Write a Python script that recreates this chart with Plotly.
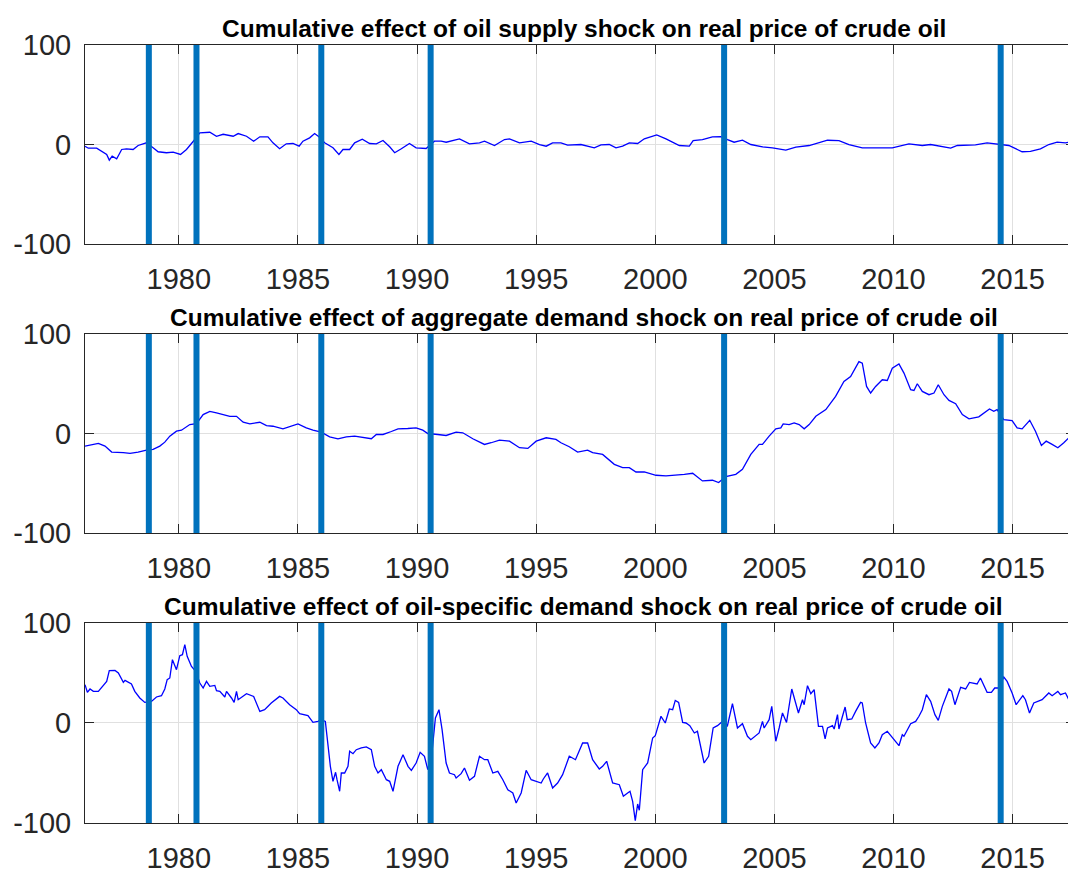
"""Historical decomposition of the real price of crude oil, three stacked panels."""

from __future__ import annotations

import plotly.graph_objects as go
from plotly.subplots import make_subplots

# Panel 1: cumulative effect of oil supply shock
SUPPLY_YEARS = [
    1976.06, 1976.20, 1976.55, 1976.76, 1976.97, 1977.08, 1977.20, 1977.39, 1977.60, 1977.80,
    1978.08, 1978.29, 1978.64, 1978.92, 1979.13, 1979.48, 1979.76, 1980.07, 1980.32, 1980.67,
    1980.88, 1981.30, 1981.58, 1981.86, 1982.28, 1982.49, 1982.84, 1983.14, 1983.40, 1983.74,
    1983.95, 1984.23, 1984.51, 1984.79, 1985.05, 1985.21, 1985.49, 1985.70, 1985.88, 1986.12,
    1986.47, 1986.72, 1986.89, 1987.17, 1987.38, 1987.70, 1988.01, 1988.29, 1988.57, 1988.85,
    1989.06, 1989.34, 1989.68, 1989.96, 1990.38, 1990.73, 1991.01, 1991.22, 1991.78, 1992.20,
    1992.62, 1992.83, 1993.25, 1993.67, 1993.88, 1994.30, 1994.79, 1995.14, 1995.42, 1995.69,
    1996.04, 1996.32, 1996.88, 1997.44, 1997.72, 1998.07, 1998.35, 1998.63, 1998.91, 1999.26,
    1999.54, 2000.06, 2000.45, 2001.01, 2001.43, 2001.59, 2001.98, 2002.40, 2002.75, 2003.03,
    2003.31, 2003.66, 2004.01, 2004.50, 2004.92, 2005.48, 2005.90, 2006.46, 2007.23, 2007.71,
    2008.13, 2008.69, 2009.39, 2009.95, 2010.65, 2011.21, 2011.56, 2011.91, 2012.40, 2012.68,
    2013.44, 2013.93, 2014.42, 2014.84, 2015.40, 2015.75, 2016.17, 2016.52, 2016.87, 2017.22,
    2017.57,
]
SUPPLY_VALUES = [
    -1.7, -3.7, -3.7, -6.7, -10, -15.7, -11.7, -14.3, -5, -4.3,
    -5, -1, 1.7, -3.3, -7.3, -8.3, -7.7, -10, -5, 5,
    11.7, 12.3, 8.3, 10.3, 8.3, 11, 8.3, 3.3, 7.7, 7.7,
    1.7, -4.3, 0.7, 1, -1.7, 3.3, 6.7, 11, 7.7, 1.7,
    -3.3, -10, -5, -5, 1.7, 5.3, 1, 0.7, 4, -2.3,
    -8.3, -4.3, 1, -3.3, -4, 3.3, 3.3, 2.3, 5.7, 0.7,
    1.7, 3.3, -1, 5, 5.7, 1.7, 3.3, 0, -1.7, 1.7,
    1.7, -0.7, 0, -3.3, -0.3, 0, -3.3, -1.7, 1.7, 1,
    5.7, 9.7, 5.7, -1, -1.7, 4, 5, 7.7, 8, 5,
    2.3, 4.3, 0, -2.3, -3.3, -5.7, -2.7, -1, 4.3, 4,
    0, -3.3, -3.3, -3.3, 0.7, -1, 0, -1.7, -3.7, -1,
    -0.3, 1.7, 0, -1, -7.3, -7, -4.3, 0, 2.3, 1.7,
    3.3,
]

# Panel 2: cumulative effect of aggregate demand shock
DEMAND_YEARS = [
    1976.06, 1976.34, 1976.62, 1976.90, 1977.18, 1977.67, 1977.95, 1978.29, 1978.64, 1978.92,
    1979.20, 1979.41, 1979.62, 1979.90, 1980.11, 1980.46, 1980.74, 1981.02, 1981.30, 1981.58,
    1981.86, 1982.14, 1982.42, 1982.70, 1982.98, 1983.40, 1983.68, 1983.95, 1984.37, 1984.65,
    1985.00, 1985.35, 1985.63, 1985.98, 1986.33, 1986.68, 1987.03, 1987.38, 1987.73, 1988.08,
    1988.29, 1988.57, 1988.92, 1989.20, 1989.61, 1989.96, 1990.24, 1990.45, 1990.87, 1991.22,
    1991.64, 1991.92, 1992.34, 1992.83, 1993.11, 1993.46, 1993.88, 1994.30, 1994.65, 1995.00,
    1995.42, 1995.83, 1996.04, 1996.39, 1996.74, 1997.16, 1997.37, 1997.79, 1998.28, 1998.63,
    1998.91, 1999.19, 1999.54, 2000.03, 2000.45, 2000.87, 2001.22, 2001.57, 2001.98, 2002.40,
    2002.66, 2002.96, 2003.38, 2003.66, 2004.01, 2004.36, 2004.50, 2004.78, 2005.06, 2005.27,
    2005.37, 2005.62, 2005.83, 2006.04, 2006.25, 2006.46, 2006.74, 2007.16, 2007.57, 2007.92,
    2008.20, 2008.55, 2008.69, 2008.87, 2009.04, 2009.25, 2009.53, 2009.74, 2009.95, 2010.23,
    2010.44, 2010.72, 2010.86, 2011.00, 2011.21, 2011.49, 2011.70, 2011.88, 2012.12, 2012.33,
    2012.61, 2012.89, 2013.17, 2013.58, 2013.79, 2014.03, 2014.21, 2014.35, 2014.63, 2014.98,
    2015.19, 2015.40, 2015.72, 2015.96, 2016.21, 2016.41, 2016.66, 2016.90, 2017.15, 2017.36,
    2017.57,
]
DEMAND_VALUES = [
    -12.7, -11, -10, -12.7, -18.7, -19.3, -20, -18.7, -16.7, -16,
    -12.7, -8.7, -2.7, 2.3, 3.3, 9, 10, 19, 22.3, 20.7,
    19, 17.3, 17.3, 11.3, 9.7, 11.3, 8, 7.3, 4.7, 6.7,
    9.7, 5.7, 3.3, 1.3, -3.3, -5.3, -3.3, -2.7, -4.3, -5.3,
    -1, -1, 2, 4.7, 5, 5.7, 3.3, 0, -1, -2,
    1.3, 0.7, -5.3, -11, -9.3, -6.7, -7.7, -14.3, -15, -7.7,
    -4.3, -6, -9.3, -13.3, -18.7, -16.7, -19.3, -21, -31, -34.3,
    -34.3, -38.7, -38.7, -42, -42.7, -42, -41, -40, -47.7, -47,
    -49.3, -43.3, -41, -36, -21, -11, -11, -2.7, 4.7, 5.7,
    9.7, 9, 10.7, 9, 4.7, 9, 17.3, 24, 37.3, 52.3,
    57.3, 72.3, 70.7, 47.3, 40.7, 47.3, 54, 53.3, 65.7, 70,
    60.7, 44, 43.3, 50, 42.3, 39, 40.7, 49, 39, 33.3,
    30, 19, 14.7, 16.7, 20.7, 24.7, 22.3, 24, 14, 13,
    5.7, 4.7, 13.3, 2.3, -12, -7.7, -11, -14.3, -9.3, -4.3,
    -10,
]

# Panel 3: cumulative effect of oil-specific demand shock
OIL_YEARS = [
    1976.06, 1976.16, 1976.27, 1976.41, 1976.62, 1976.83, 1976.97, 1977.08, 1977.32, 1977.46,
    1977.67, 1977.74, 1978.01, 1978.15, 1978.36, 1978.57, 1978.85, 1979.06, 1979.27, 1979.41,
    1979.51, 1979.62, 1979.73, 1979.90, 1980.04, 1980.15, 1980.25, 1980.35, 1980.53, 1980.71,
    1980.88, 1981.02, 1981.16, 1981.30, 1981.51, 1981.58, 1981.72, 1981.93, 1982.00, 1982.21,
    1982.32, 1982.42, 1982.49, 1982.84, 1983.14, 1983.40, 1983.60, 1983.88, 1984.23, 1984.37,
    1984.65, 1984.93, 1985.07, 1985.42, 1985.63, 1985.84, 1985.98, 1986.15, 1986.26, 1986.36,
    1986.47, 1986.58, 1986.64, 1986.75, 1986.82, 1986.96, 1987.10, 1987.17, 1987.31, 1987.45,
    1987.66, 1987.87, 1988.08, 1988.22, 1988.36, 1988.50, 1988.71, 1988.85, 1988.99, 1989.20,
    1989.41, 1989.62, 1989.76, 1989.96, 1990.13, 1990.31, 1990.45, 1990.63, 1990.77, 1990.92,
    1991.05, 1991.22, 1991.36, 1991.57, 1991.64, 1991.85, 1991.99, 1992.20, 1992.41, 1992.62,
    1992.83, 1992.97, 1993.18, 1993.39, 1993.60, 1993.81, 1994.02, 1994.16, 1994.37, 1994.58,
    1994.79, 1994.99, 1995.21, 1995.30, 1995.48, 1995.69, 1995.90, 1996.11, 1996.39, 1996.65,
    1996.95, 1997.16, 1997.37, 1997.65, 1997.79, 1997.96, 1998.21, 1998.49, 1998.66, 1998.84,
    1998.94, 1999.05, 1999.16, 1999.26, 1999.33, 1999.47, 1999.68, 1999.89, 2000.00, 2000.24,
    2000.42, 2000.59, 2000.73, 2000.84, 2000.98, 2001.15, 2001.29, 2001.45, 2001.64, 2001.77,
    2001.96, 2002.05, 2002.24, 2002.43, 2002.61, 2002.82, 2003.03, 2003.24, 2003.45, 2003.66,
    2003.87, 2004.01, 2004.36, 2004.50, 2004.57, 2004.78, 2004.89, 2005.06, 2005.20, 2005.34,
    2005.51, 2005.62, 2005.73, 2006.01, 2006.18, 2006.25, 2006.39, 2006.53, 2006.67, 2006.85,
    2007.02, 2007.13, 2007.23, 2007.44, 2007.51, 2007.65, 2007.71, 2007.85, 2007.97, 2008.06,
    2008.25, 2008.41, 2008.62, 2008.69, 2008.83, 2009.04, 2009.22, 2009.39, 2009.53, 2009.74,
    2009.95, 2010.23, 2010.37, 2010.44, 2010.72, 2010.93, 2011.07, 2011.21, 2011.38, 2011.56,
    2011.74, 2011.88, 2012.05, 2012.33, 2012.44, 2012.58, 2012.82, 2013.03, 2013.19, 2013.51,
    2013.65, 2013.93, 2014.11, 2014.25, 2014.42, 2014.63, 2014.77, 2014.98, 2015.15, 2015.43,
    2015.54, 2015.71, 2015.89, 2016.24, 2016.52, 2016.66, 2016.90, 2017.01, 2017.22, 2017.36,
    2017.57,
]
OIL_VALUES = [
    38.3, 30.7, 34, 31.6, 31.6, 38.3, 41.6, 52.3, 52.6, 50,
    40.6, 42.6, 39, 31.6, 25, 20.6, 21.6, 26, 27.3, 34,
    43.3, 45, 63.3, 53.3, 67.3, 68.3, 78.3, 66.6, 56.6, 51.6,
    40, 35, 41.6, 36.6, 37.6, 32.3, 31.6, 26, 31.6, 25,
    20.6, 31.6, 23.3, 29.3, 26.6, 11.6, 13.3, 20, 26.6, 25,
    18.3, 13.3, 9.3, 7.3, 0.6, 1.6, 3.3, 1.6, -20, -43.3,
    -58.3, -49.3, -56.7, -68.3, -50, -50, -43.3, -28.3, -30.7, -26.7,
    -25, -24, -26.7, -43.3, -50, -46.7, -56.7, -58.3, -68.3, -43.3,
    -31.7, -43.3, -47.3, -40, -29.3, -33.3, -46.7, -28.3, 5, 13.3,
    -6.7, -40, -50, -51.7, -55, -50.7, -45, -57.3, -53.3, -33.3,
    -36.7, -36.7, -50, -48.3, -56.7, -66.7, -70, -80, -70, -47.3,
    -56.7, -58.3, -60, -56, -50, -65, -60, -51.7, -33.3, -36.7,
    -20, -20, -36.7, -46, -43.3, -38.3, -60, -61.7, -73.3, -70,
    -68.3, -78.3, -97.7, -81, -87.3, -46.7, -40, -15, -12.7, 6.7,
    0, 14, 13.3, 22.6, 20.6, 0.6, 0, -2.7, -10, -8.3,
    -31.7, -40, -33.3, -5, -2.7, 1.6, -2.7, 19.3, -5, -0.7,
    -13.3, -16.7, -10, 1.6, -5, 3.3, 16.6, -18.3, -5, 10,
    0.6, 20, 34, 10, 23.3, 18.3, 37.3, 29.3, 33.3, -3.3,
    -3.3, -16, -5, -2.7, -6, 8.3, -6, 6, 16, 3.3,
    4, 11.6, 20.6, 20, 0, -20, -25, -20, -11.7, -8.3,
    -15, -22.7, -11.7, -13.3, -0.7, 1.6, 6.7, 13.3, 28.3, 21.6,
    8.3, 2.6, 16.6, 34, 31.6, 18.3, 35.6, 34, 40.6, 39,
    45, 30.6, 30.6, 35, 35, 46, 41.6, 30, 18.3, 27.3,
    23.3, 10, 20, 23.3, 30, 27.3, 31.6, 28.3, 30, 23.3,
    23.3,
]

# Dates of the marked oil market events (vertical bars)
EVENT_DATES = [1978.74, 1980.74, 1985.98, 1990.57, 2002.89, 2014.50]

PANEL_TITLES = [
    "Cumulative effect of oil supply shock on real price of crude oil",
    "Cumulative effect of aggregate demand shock on real price of crude oil",
    "Cumulative effect of oil-specific demand shock on real price of crude oil",
]

X_TICKS = [1980, 1985, 1990, 1995, 2000, 2005, 2010, 2015]
X_TICK_LABELS = ["1980", "1985", "1990", "1995", "2000", "2005", "2010", "2015"]
Y_TICKS = [-100, 0, 100]
Y_TICK_LABELS = ["-100", "0", "100"]
X_RANGE = [1976.06, 2017.62]
Y_RANGE = [-100, 100]

FONT = "Liberation Sans, Arial, Helvetica, sans-serif"
AXIS_COLOR = "#262626"
GRID_COLOR = "#e0e0e0"
EVENT_COLOR = "#0072bd"
LINE_COLOR = "#0000ff"

# y domains for the three stacked axes (top to bottom)
DOMAINS = [[0.7442, 1.0], [0.3728, 0.6285], [0.0, 0.2571]]


def build_figure() -> go.Figure:
    fig = make_subplots(rows=3, cols=1)

    series = [
        (SUPPLY_YEARS, SUPPLY_VALUES),
        (DEMAND_YEARS, DEMAND_VALUES),
        (OIL_YEARS, OIL_VALUES),
    ]
    for row, (xs, ys) in enumerate(series, start=1):
        fig.add_trace(
            go.Scatter(
                x=xs,
                y=ys,
                mode="lines",
                line={"color": LINE_COLOR, "width": 1.3},
                showlegend=False,
                hoverinfo="skip",
            ),
            row=row,
            col=1,
        )
        for date in EVENT_DATES:
            fig.add_vline(
                x=date,
                line={"color": EVENT_COLOR, "width": 6},
                row=row,
                col=1,
            )

    axis_common = {
        "automargin": False,
        "showline": True,
        "linecolor": AXIS_COLOR,
        "linewidth": 1,
        "mirror": "allticks",
        "ticks": "inside",
        "ticklen": 9,
        "tickwidth": 1,
        "tickcolor": AXIS_COLOR,
        "showgrid": True,
        "gridcolor": GRID_COLOR,
        "gridwidth": 1,
        "zeroline": False,
        "tickfont": {"family": FONT, "size": 29, "color": AXIS_COLOR},
    }
    fig.update_xaxes(
        range=X_RANGE,
        tickvals=X_TICKS,
        ticktext=X_TICK_LABELS,
        ticklabelstandoff=9,
        **axis_common,
    )
    fig.update_yaxes(
        range=Y_RANGE,
        tickvals=Y_TICKS,
        ticktext=Y_TICK_LABELS,
        ticklabelstandoff=7,
        **axis_common,
    )
    for i, dom in enumerate(DOMAINS, start=1):
        fig.update_layout({f"yaxis{'' if i == 1 else i}": {"domain": dom}})

    for title, dom in zip(PANEL_TITLES, DOMAINS):
        fig.add_annotation(
            text=f"<b>{title}</b>",
            x=0.504,
            xref="paper",
            y=dom[1],
            yref="paper",
            xanchor="center",
            yanchor="bottom",
            showarrow=False,
            yshift=1,
            font={"family": FONT, "size": 24.5, "color": "#000000"},
        )

    # the page body adds an 8 px offset, so the figure is drawn 8 px smaller
    fig.update_layout(
        width=1068,
        height=862,
        margin={"l": 77, "r": 1, "t": 37, "b": 47},
        paper_bgcolor="#ffffff",
        plot_bgcolor="#ffffff",
        showlegend=False,
    )
    return fig


if __name__ == "__main__":
    fig = build_figure()
    fig.write_html("out.html")
